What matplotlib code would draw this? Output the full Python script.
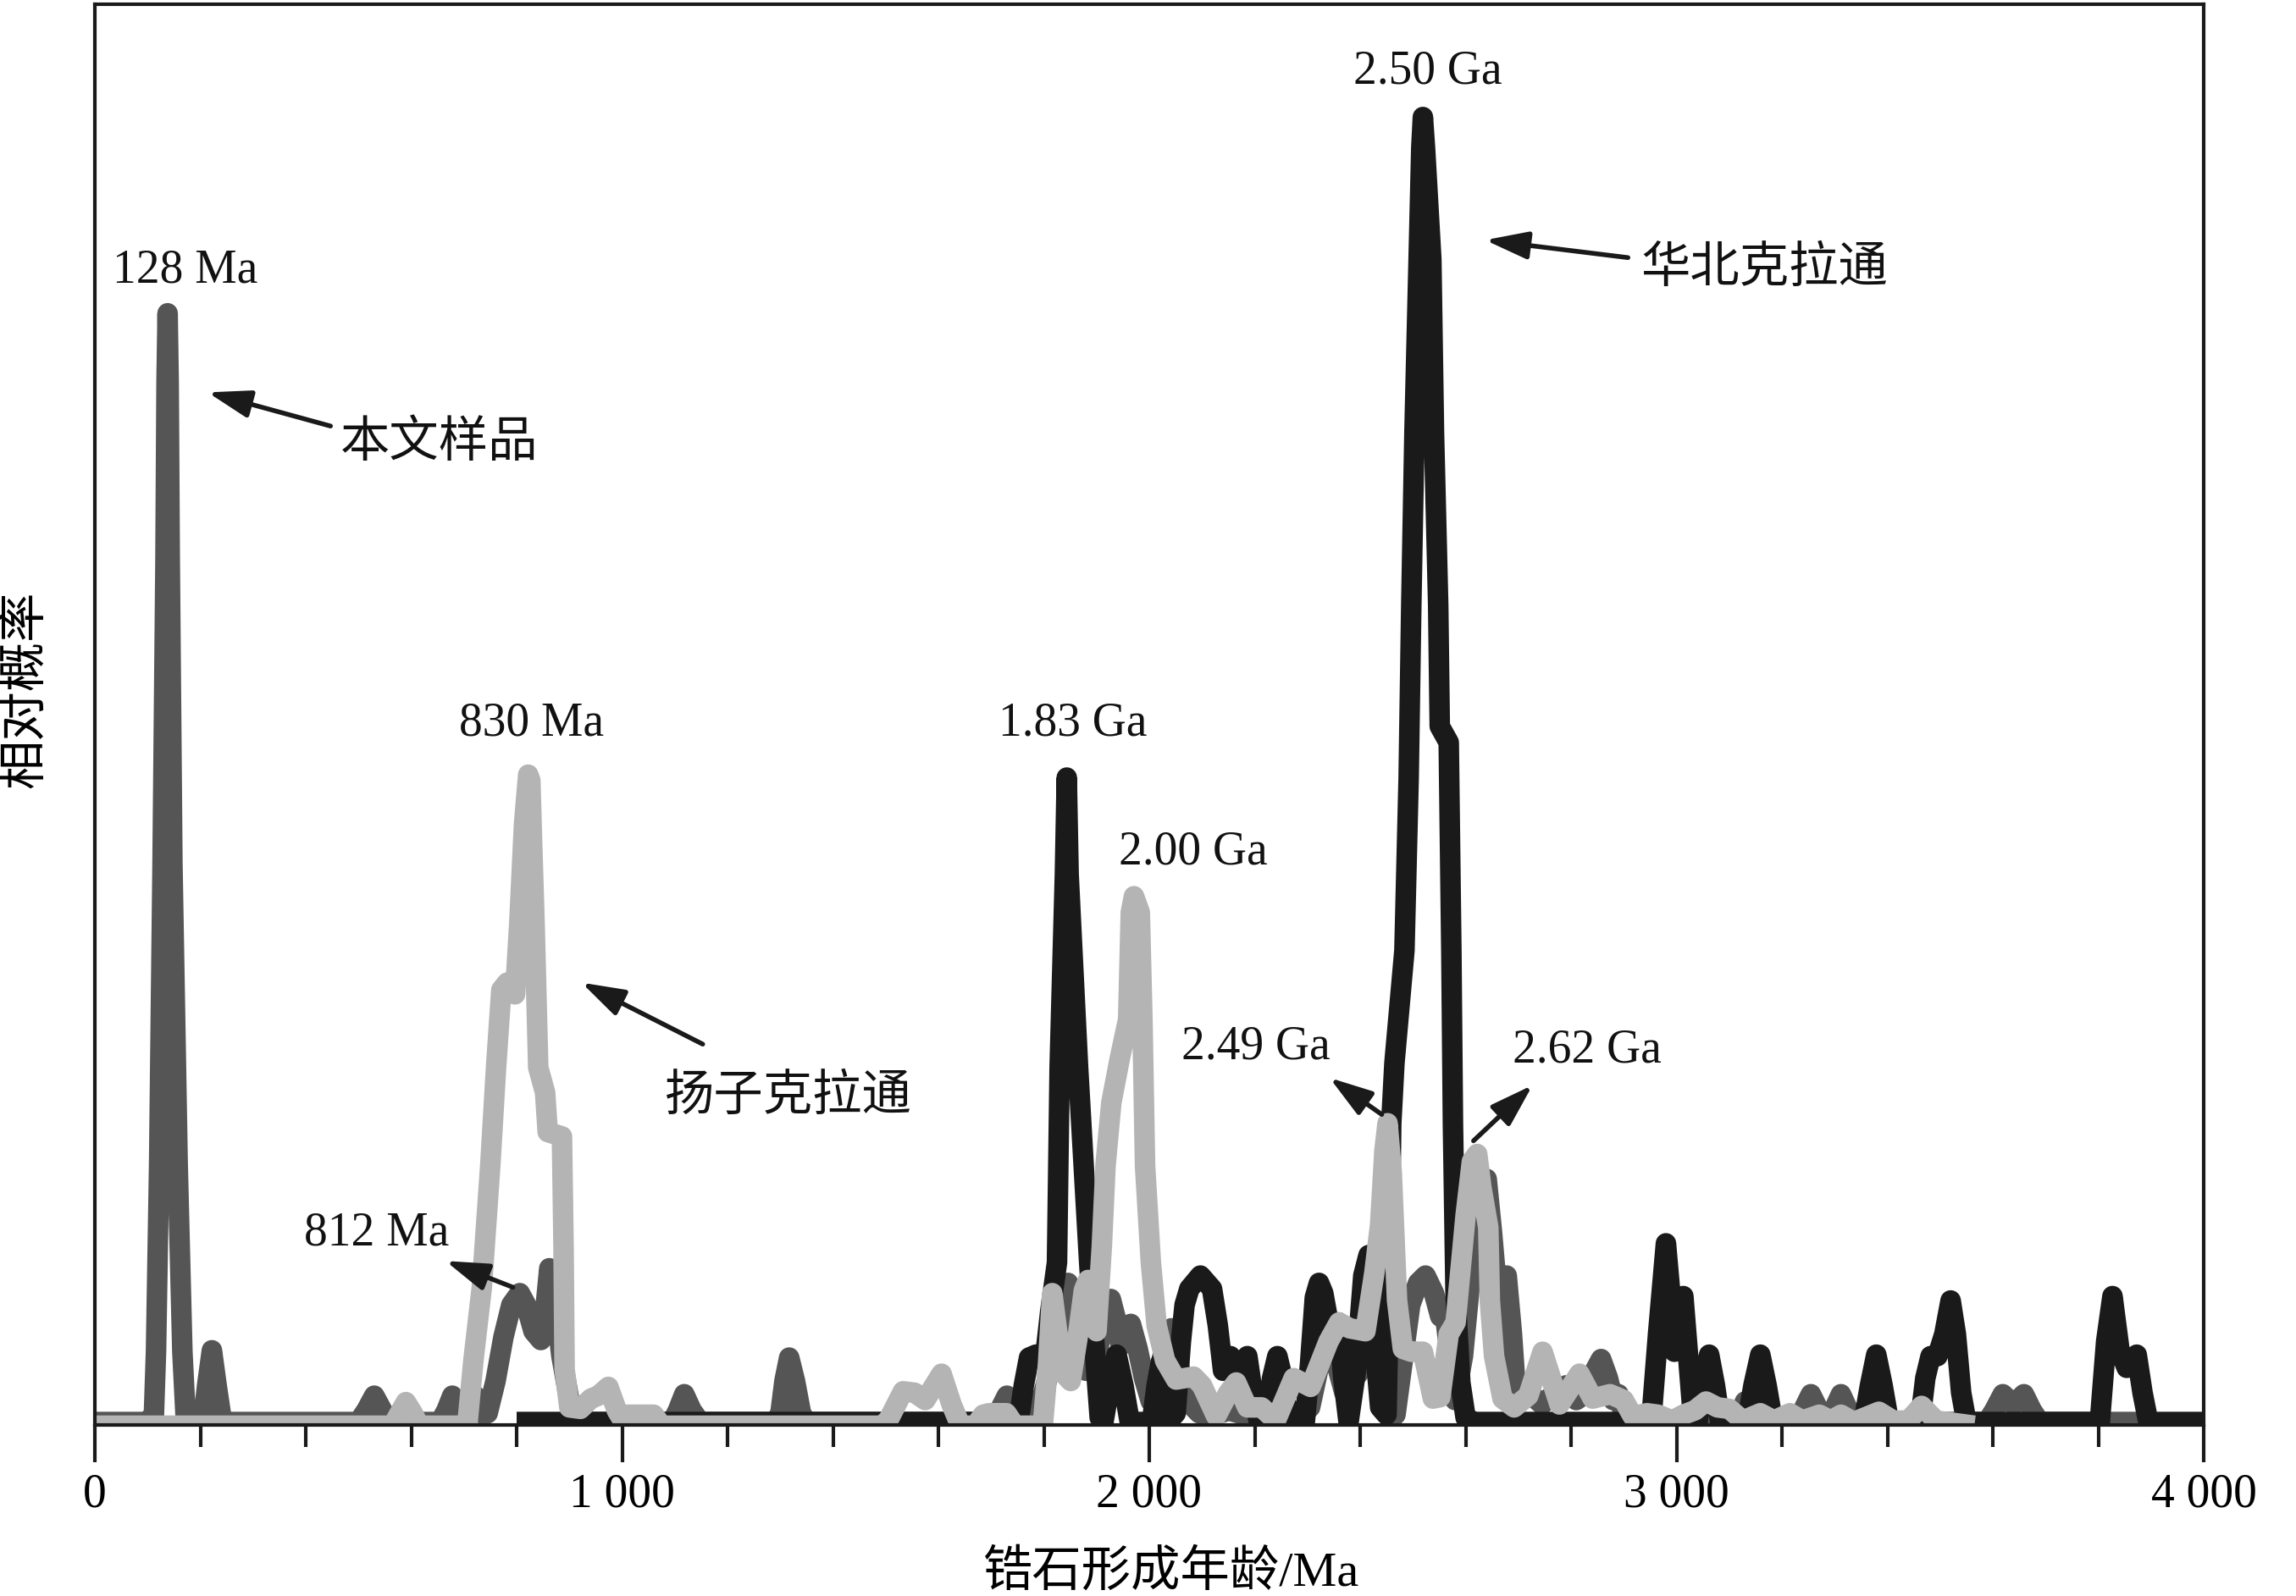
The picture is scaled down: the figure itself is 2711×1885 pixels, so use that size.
import matplotlib
matplotlib.use('Agg')
import matplotlib.pyplot as plt
from matplotlib.ticker import MultipleLocator, FuncFormatter

plt.rcParams['font.family'] = ['Liberation Serif', 'Noto Sans CJK SC', 'DejaVu Sans']

# ---------------- data ----------------
# 本文样品 (dark grey)
sample_age = [0, 100, 112, 116, 122, 128.5, 134, 136, 138, 140, 142, 147, 157, 166, 172, 180,
              198, 206, 213, 222, 231, 240, 248,
              500, 515, 530, 545, 558,
              655, 667, 678, 690, 700, 711, 721, 733, 745, 760, 775, 790, 806, 818, 832, 846, 854,
              862, 871, 885, 900, 913,
              1095, 1106, 1118, 1132, 1148,
              1288, 1300, 1308, 1317, 1328, 1340, 1352,
              1705, 1716, 1730, 1743, 1754, 1790, 1815, 1835, 1846, 1858, 1868, 1880, 1900, 1915,
              1927, 1937, 1946, 1955, 1965, 1978, 1990, 2003, 2015, 2030, 2042, 2055, 2073, 2095,
              2120, 2150, 2180, 2210, 2240, 2270, 2290, 2305, 2320, 2340, 2355, 2370, 2390, 2410,
              2425, 2440, 2455, 2467, 2480, 2495, 2510, 2524, 2540, 2552, 2562, 2572, 2580, 2595,
              2615, 2630, 2640, 2650, 2660, 2668, 2678, 2688, 2697, 2720, 2745, 2770, 2790, 2810,
              2830, 2845, 2857, 2870, 2880, 2890, 2900, 2915,
              3115, 3130, 3145,
              3228, 3240, 3255, 3270, 3284, 3298, 3312, 3326, 3340,
              3589, 3603, 3619, 3639, 3659, 3674, 3689, 3900]
sample_p = [0, 0, 5, 48, 177, 383, 590, 710, 757, 710, 590, 383, 177, 48, 5, 0,
            0, 3, 25, 49, 25, 3, 0,
            0, 8, 18, 8, 0,
            0, 8, 18, 8, 5, 10, 18, 6, 6, 28, 58, 80, 88, 80, 62, 56, 75,
            105, 88, 45, 15, 0,
            0, 8, 19, 8, 0,
            0, 5, 28, 44, 28, 5, 0,
            0, 8, 18, 8, 2, 8, 40, 85, 95, 80, 45, 35, 45, 70,
            84, 70, 52, 60, 67, 50, 30, 14, 25, 55, 64, 40, 14, 6,
            4, 8, 5, 8, 4, 8, 5, 10, 35, 55, 40, 20, 30, 40,
            45, 30, 15, 5, 40, 80, 95, 100, 88, 72, 70, 40, 15, 45,
            120, 160, 166, 130, 88, 92, 100, 60, 12, 20, 12, 20, 25, 15,
            20, 35, 43, 30, 15, 19, 5, 0,
            0, 14, 0,
            0, 8, 19, 8, 4, 8, 19, 8, 0,
            0, 8, 19, 12, 19, 8, 0, 0]

# 华北克拉通 (black)
ncc_age = [800, 1680, 1690, 1700, 1752, 1762, 1772, 1785, 1803, 1812, 1825, 1830, 1840, 1843.5,
           1847, 1865, 1886, 1898, 1906, 1913, 1925, 1938, 1951, 1963,
           2005, 2014, 2022, 2030, 2040, 2050, 2060, 2067, 2076, 2097, 2119, 2130, 2140, 2154,
           2162, 2170, 2178, 2186, 2196, 2208, 2222, 2233, 2243, 2253, 2264,
           2295, 2305, 2314, 2322, 2330, 2340, 2352, 2359, 2368, 2378, 2392, 2406, 2416, 2426,
           2438, 2450, 2455, 2459, 2465, 2484, 2492, 2497, 2503, 2511, 2516, 2519, 2523, 2535,
           2540, 2548, 2551, 2568, 2573, 2576, 2581, 2590, 2600, 2615,
           2952, 2965, 2980, 2989, 2996, 3005, 3013, 3022, 3032,
           3040, 3050, 3062, 3073, 3083,
           3134, 3146, 3159, 3171, 3183,
           3355, 3367, 3379, 3391, 3403,
           3462, 3472, 3482, 3495, 3508, 3520, 3530, 3540, 3550,
           3803, 3815, 3827, 3840, 3854, 3863, 3873, 3884, 3895, 4000]
ncc_p = [0, 0, 3, 0, 0, 25, 44, 46, 46, 75, 109, 242, 374, 440,
         374, 242, 109, 42, 3, 0, 25, 46, 25, 0,
         0, 25, 41, 25, 2, 6, 55, 80, 91, 100, 91, 66, 35, 45,
         38, 25, 38, 45, 20, 0, 0, 30, 45, 30, 0,
         0, 40, 85, 95, 88, 68, 66, 68, 30, 0, 35, 100, 114, 60,
         10, 5, 100, 204, 245, 322, 440, 558, 676, 794, 870, 891, 870, 794,
         676, 558, 475, 464, 322, 204, 86, 27, 3, 0,
         0, 60, 122, 85, 48, 70, 86, 45, 0,
         0, 25, 46, 25, 0,
         0, 25, 46, 25, 0,
         0, 25, 46, 25, 0,
         0, 30, 45, 45, 60, 83, 60, 20, 0,
         0, 55, 86, 50, 37, 42, 46, 20, 0, 0]

# 扬子克拉通 (light grey)
yzc_age = [0, 565, 578, 590, 603, 615, 700, 707, 718, 734, 750, 761, 771, 782, 797, 805, 814,
           822, 826, 829, 834, 841, 854, 859, 886, 889, 891, 900, 921, 941, 955, 974, 990, 1000,
           1010, 1060, 1075,
           1495, 1506, 1533, 1555, 1575, 1606, 1625, 1642, 1670, 1685, 1696, 1729, 1745, 1798,
           1808, 1816, 1826, 1838, 1851, 1865, 1876, 1884, 1892, 1900, 1910, 1917, 1928, 1944,
           1960, 1965, 1971, 1982, 1987, 1992, 2003, 2014, 2030, 2051, 2084, 2100, 2127, 2150,
           2165, 2186, 2213, 2240, 2274, 2306, 2340, 2360, 2380, 2410, 2427, 2438, 2446, 2452,
           2460, 2470, 2481, 2497, 2519, 2538, 2552, 2568, 2581, 2600, 2612, 2622, 2630, 2643,
           2646, 2654, 2670, 2692, 2719, 2746, 2778, 2816, 2841, 2874, 2900, 2917, 2944, 2965,
           2992, 3013, 3035, 3056, 3078, 3100, 3126, 3159, 3185, 3215, 3239, 3271, 3293, 3312,
           3336, 3384, 3411, 3440, 3465, 3492, 3565]
yzc_p = [-2.5, -2.5, 6, 13.6, 6, -2.5, -2.5, 0, 42, 92, 175, 242, 295, 300, 292, 340, 408,
         442, 438, 400, 341, 242, 225, 198, 195, 120, 36, 10, 9, 16, 18, 24, 8, 2,
         5, 5, -2.5,
         -2.5, 2, 21, 20, 15, 33, 12, -2.5, -2.5, 5, 6, 6, -2.5, -2.5,
         40, 88, 60, 33, 28, 60, 90, 97, 75, 62, 120, 175, 218, 248,
         275, 348, 359, 348, 275, 175, 109, 66, 42, 29, 31, 25, 4, 20,
         27, 10, 10, 1, 30, 24, 55, 68, 64, 62, 102, 135, 185, 204,
         170, 83, 50, 48, 48, 16, 17, 60, 68, 141, 178, 183, 160, 133,
         83, 45, 16, 10, 18, 48, 12, 33, 16, 19, 15, 4, 6, 5,
         1, 5, 8, 14, 10, 9, 1, 6, 1, 6, 1, 5, 1, 5,
         0, 7, 1, 1, 11, 1, -2.5]

# labels: (text, age, height)
peak_labels = [("128 Ma", 172, 786), ("830 Ma", 829, 477), ("812 Ma", 535, 129),
               ("1.83 Ga", 1855, 477), ("2.00 Ga", 2084, 389), ("2.50 Ga", 2528, 922),
               ("2.49 Ga", 2202, 256), ("2.62 Ga", 2830, 254)]
name_labels = [("本文样品", 654, 668), ("扬子克拉通", 1316, 222), ("华北克拉通", 3166, 787)]
# arrows: (tail_age, tail_h, head_age, head_h)
arrows = [(447, 680, 214, 703), (1153, 258, 923, 300), (793, 92, 665, 110),
          (2908, 795, 2637, 807), (2441, 210, 2342, 235), (2615, 192, 2727, 230)]

# ---------------- figure ----------------
W, H = 2711, 1885
fig = plt.figure(figsize=(W / 100, H / 100), dpi=100)
ax = fig.add_axes([112 / W, 1 - 1683 / H, 2490 / W, 1678 / H])

lw = 17.5
ax.plot(sample_age, sample_p, color='#555555', lw=lw, solid_joinstyle='round',
        solid_capstyle='butt', zorder=2)
ax.plot(ncc_age, ncc_p, color='#1a1a1a', lw=lw, solid_joinstyle='round',
        solid_capstyle='butt', zorder=3)
ax.plot(yzc_age, yzc_p, color='#b4b4b4', lw=lw, solid_joinstyle='round',
        solid_capstyle='butt', zorder=4)

ax.set_xlim(0, 4000)
ax.set_ylim(-2, 968)
ax.set_yticks([])
ax.xaxis.set_major_locator(MultipleLocator(1000))
ax.xaxis.set_minor_locator(MultipleLocator(200))


def fmt(v, pos):
    v = int(round(v))
    if v == 0:
        return '0'
    return f'{v // 1000} {v % 1000:03d}'


ax.xaxis.set_major_formatter(FuncFormatter(fmt))
ax.tick_params(axis='x', which='major', length=32, width=3, direction='out', pad=9,
               labelsize=40, color='#1a1a1a')
ax.tick_params(axis='x', which='minor', length=19, width=3, direction='out', color='#1a1a1a')
for s in ax.spines.values():
    s.set_linewidth(3)
    s.set_color('#1a1a1a')
    s.set_zorder(6)

ax.set_xlabel('锆石形成年龄/Ma', fontsize=42)
ax.xaxis.set_label_coords(0.5105, -0.1037)
ax.xaxis.label.set_va('center')
ax.set_ylabel('相对概率', fontsize=42)
ax.yaxis.set_label_coords(-0.033, 0.518)
ax.yaxis.label.set_va('center')

for t, a, h in peak_labels:
    ax.text(a, h, t, ha='center', va='center', fontsize=40, color='#111111', zorder=7)
for t, a, h in name_labels:
    ax.text(a, h, t, ha='center', va='center', fontsize=42, color='#111111', zorder=7)
for ta, th, ha_, hh in arrows:
    ax.annotate('', xy=(ha_, hh), xytext=(ta, th),
                arrowprops=dict(arrowstyle='-|>,head_length=1.4,head_width=0.45',
                                mutation_scale=22, lw=4, color='#1a1a1a',
                                shrinkA=0, shrinkB=0), zorder=7)

fig.savefig('out.png', dpi=100)
